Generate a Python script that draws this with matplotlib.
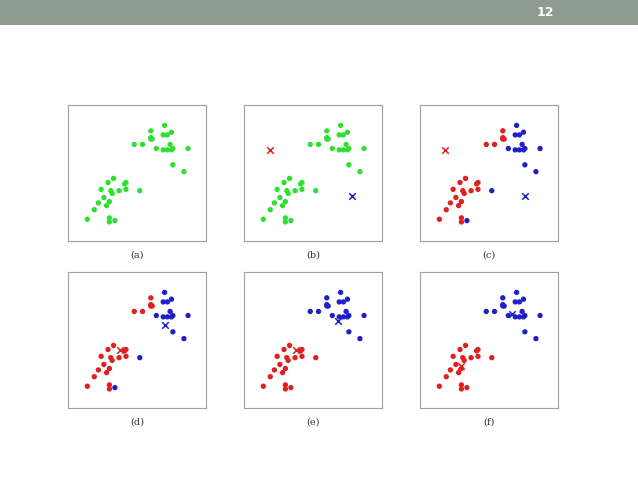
import numpy as np
import matplotlib.pyplot as plt

# point coordinates (normalised 0..1 inside each panel)
pts_x = [0.60, 0.70, 0.60, 0.61, 0.60, 0.69, 0.72, 0.75, 0.48, 0.54, 0.64, 0.74,
         0.69, 0.72, 0.75, 0.76, 0.87, 0.76, 0.84,
         0.33, 0.29, 0.41, 0.42, 0.24, 0.31, 0.32, 0.37, 0.42, 0.52, 0.30, 0.26,
         0.22, 0.28, 0.19, 0.14, 0.30, 0.30, 0.34]
pts_y = [0.81, 0.85, 0.76, 0.75, 0.75, 0.78, 0.78, 0.80, 0.71, 0.71, 0.68, 0.71,
         0.67, 0.67, 0.67, 0.68, 0.68, 0.56, 0.51,
         0.46, 0.43, 0.42, 0.43, 0.38, 0.37, 0.35, 0.37, 0.38, 0.37, 0.29, 0.32,
         0.28, 0.26, 0.23, 0.16, 0.17, 0.14, 0.15]

# cluster labels per panel (0 = red, 1 = blue, None = unassigned green)
labels_cd = [0, 1, 0, 0, 0, 1, 1, 1, 0, 0, 1, 1, 1, 1, 1, 1, 1, 1, 1,
             0, 0, 0, 0, 0, 0, 0, 0, 0, 1, 0, 0, 0, 0, 0, 0, 0, 0, 1]
labels_ef = [1] * 19 + [0] * 19
panel_labels = [None, None, labels_cd, labels_cd, labels_ef, labels_ef]

# centroids per panel: (red_x, red_y, blue_x, blue_y)
centroids = [None, (0.19, 0.67, 0.78, 0.33), (0.18, 0.67, 0.76, 0.33),
             (0.375, 0.425, 0.70, 0.61), (0.38, 0.43, 0.68, 0.64),
             (0.30, 0.31, 0.67, 0.69)]
captions = ["(a)", "(b)", "(c)", "(d)", "(e)", "(f)"]

green, red, blue = "#2ee02e", "#e01f1f", "#1f1fc8"

W, H = 638, 478
fig = plt.figure(figsize=(W / 100, H / 100), dpi=100)

# header banner
ban = fig.add_axes([0, 1 - 25 / H, 1, 25 / H])
ban.set_facecolor("#8e9b90")
ban.set_xticks([]); ban.set_yticks([])
for s in ban.spines.values():
    s.set_visible(False)
ban.text(545 / W, 0.5, "12", transform=ban.transAxes, color="white",
         fontsize=9, fontweight="bold", ha="center", va="center")

lefts = [68, 244, 420]
tops = [105, 272]
for i in range(6):
    l = lefts[i % 3]
    t = tops[i // 3]
    ax = fig.add_axes([l / W, 1 - (t + 136) / H, 138 / W, 136 / H])
    ax.set_xlim(0, 1); ax.set_ylim(0, 1)
    ax.set_xticks([]); ax.set_yticks([])
    for s in ax.spines.values():
        s.set_color("#a0a0a0")
    lab = panel_labels[i]
    if lab is None:
        cols = [green] * len(pts_x)
    else:
        cols = [red if c == 0 else blue for c in lab]
    ax.scatter(pts_x, pts_y, s=8, c=cols, zorder=2)
    c = centroids[i]
    if c is not None:
        ax.scatter([c[0]], [c[1]], marker="x", s=22, c=red, linewidths=1.1, zorder=3)
        ax.scatter([c[2]], [c[3]], marker="x", s=22, c=blue, linewidths=1.1, zorder=3)
    fig.text((l + 69) / W, 1 - (t + 150) / H, captions[i], ha="center",
             va="center", fontsize=7, family="DejaVu Serif", color="#333333")

fig.savefig("out.png", dpi=100)
